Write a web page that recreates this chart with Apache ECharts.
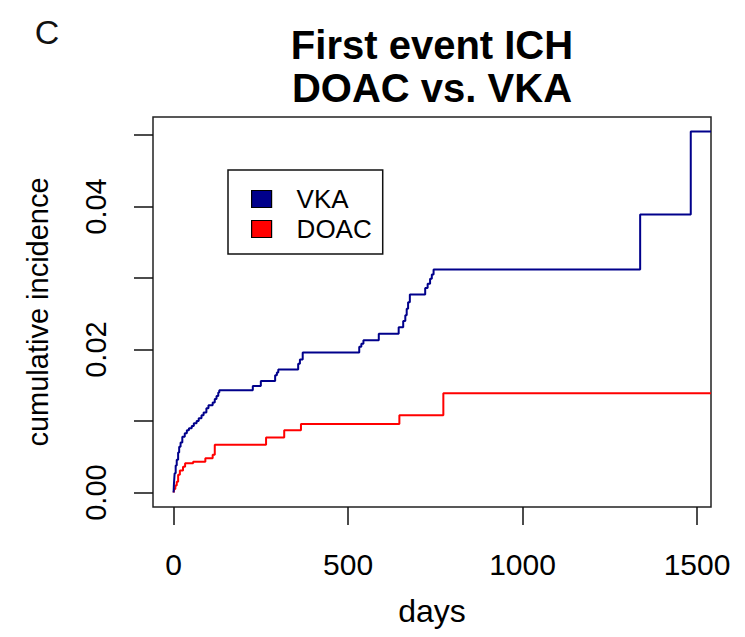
<!DOCTYPE html>
<html><head><meta charset="utf-8">
<script src="https://cdn.jsdelivr.net/npm/echarts@6/dist/echarts.min.js"></script>
<style>html,body{margin:0;padding:0;background:#fff}#c{width:745px;height:637px}</style>
</head><body><div id="c"></div>
<script>
const panelLabel = 'C';
const titleLines = ['First event ICH', 'DOAC vs. VKA'];
const xAxisName = 'days';
const yAxisName = 'cumulative incidence';
const xTicks = [0, 500, 1000, 1500];
const yTicks = [0, 0.01, 0.02, 0.03, 0.04, 0.05];
const yLabels = [0, 0.02, 0.04];
const seriesNames = ['VKA', 'DOAC'];
const seriesColors = ['#00008B', '#FF0000'];

const vkaDays = [0,1,3,6,9,13,16,20,25,32,38,44,52,58,66,72,80,86,94,100,112,118,123,128,131,227,250,291,296,300,357,362,370,532,538,544,588,645,658,664,668,672,677,721,728,735,740,745,1337,1482,1540];
const vkaInc = [0,0.0012,0.0027,0.0038,0.0046,0.0056,0.0064,0.0070,0.0078,0.0083,0.0087,0.0090,0.0093,0.0097,0.0100,0.0104,0.0108,0.0112,0.0118,0.0122,0.0126,0.0131,0.0135,0.0140,0.0143,0.0149,0.0156,0.0164,0.0168,0.0172,0.0180,0.0186,0.0196,0.0204,0.0208,0.0213,0.0222,0.0231,0.0240,0.0248,0.0257,0.0266,0.0277,0.0286,0.0292,0.0299,0.0305,0.0312,0.0389,0.0505,0.0505];

const doacDays = [0,2,5,9,13,18,27,33,56,91,112,118,265,317,365,647,773,1540];
const doacInc = [0,0.0005,0.0010,0.0015,0.0025,0.0031,0.0036,0.0041,0.0043,0.0048,0.0053,0.0067,0.0077,0.0087,0.0096,0.0108,0.0139,0.0139];

const FONT = '"Liberation Sans", Arial, Helvetica, sans-serif';
const zip = (a, b) => a.map((v, i) => [v, b[i]]);

const chart = echarts.init(document.getElementById('c'), null, {renderer: 'svg'});
chart.setOption({
  animation: false,
  backgroundColor: '#fff',
  textStyle: {fontFamily: FONT, color: '#000'},
  graphic: [
    {type: 'text', x: 47, y: 32, style: {text: panelLabel, font: 'normal 34px ' + FONT, textAlign: 'center', textVerticalAlign: 'middle', fill: '#111'}},
    {type: 'text', x: 432, y: 45, style: {text: titleLines[0], font: 'bold 40px ' + FONT, textAlign: 'center', textVerticalAlign: 'middle', fill: '#000'}},
    {type: 'text', x: 432, y: 88, style: {text: titleLines[1], font: 'bold 40px ' + FONT, textAlign: 'center', textVerticalAlign: 'middle', fill: '#000'}}
  ],
  grid: {left: 153, top: 117, width: 558, height: 390, show: true, borderColor: '#222', borderWidth: 1.5, backgroundColor: 'transparent'},
  legend: {
    orient: 'vertical', left: 228, top: 170,
    selectedMode: false,
    backgroundColor: '#fff',
    borderColor: '#111', borderWidth: 1.5, borderRadius: 0,
    padding: [14, 11, 10, 23],
    itemWidth: 20, itemHeight: 17, itemGap: 0,
    itemStyle: {borderColor: '#000', borderWidth: 1.2},
    textStyle: {fontSize: 26, color: '#000', fontFamily: FONT, lineHeight: 30, padding: [0, 0, 0, 20]},
    data: seriesNames.map(n => ({name: n, icon: 'rect'}))
  },
  xAxis: {
    type: 'value', min: -59, max: 1540,
    axisLine: {show: false, onZero: false},
    axisTick: {show: true, length: 18, lineStyle: {color: '#111', width: 1.5}, customValues: xTicks},
    axisLabel: {customValues: xTicks, fontSize: 30, color: '#000', margin: 42, fontFamily: FONT, formatter: v => String(v)},
    splitLine: {show: false},
    name: xAxisName, nameLocation: 'middle', nameGap: 88,
    nameTextStyle: {fontSize: 32, color: '#000', fontFamily: FONT}
  },
  yAxis: {
    type: 'value', min: -0.00202, max: 0.05252,
    axisLine: {show: false, onZero: false},
    axisTick: {show: true, length: 19, lineStyle: {color: '#111', width: 1.5}, customValues: yTicks},
    axisLabel: {customValues: yLabels, rotate: 90, fontSize: 29, color: '#000', margin: 43, fontFamily: FONT, formatter: v => Number(v).toFixed(2)},
    splitLine: {show: false},
    name: yAxisName, nameLocation: 'middle', nameGap: 101,
    nameTextStyle: {fontSize: 29, color: '#000', fontFamily: FONT}
  },
  series: [
    {name: seriesNames[0], type: 'line', step: 'end', showSymbol: false, color: seriesColors[0], lineStyle: {width: 2, color: seriesColors[0]}, data: zip(vkaDays, vkaInc), z: 3},
    {name: seriesNames[1], type: 'line', step: 'end', showSymbol: false, color: seriesColors[1], lineStyle: {width: 2, color: seriesColors[1]}, data: zip(doacDays, doacInc), z: 2}
  ]
});
</script>
</body></html>
